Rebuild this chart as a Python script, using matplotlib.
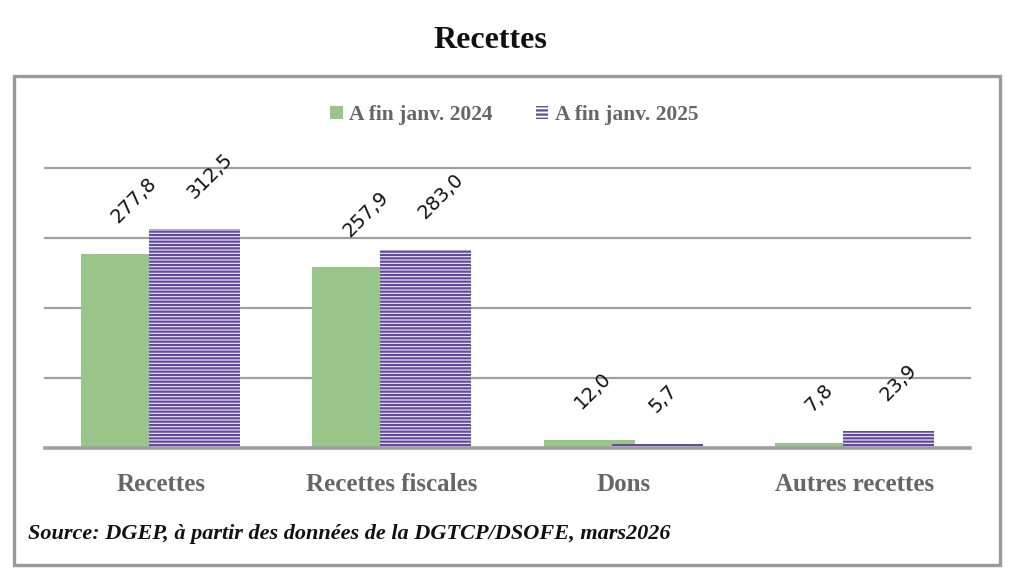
import numpy as np
import matplotlib.pyplot as plt
from matplotlib.patches import Rectangle, Patch
from matplotlib import transforms

categories = ["Recettes", "Recettes fiscales", "Dons", "Autres recettes"]
series_names = ["A fin janv. 2024", "A fin janv. 2025"]
vals_2024 = [277.8, 257.9, 12.0, 7.8]
vals_2025 = [312.5, 283.0, 5.7, 23.9]
labels_2024 = ["277,8", "257,9", "12,0", "7,8"]
labels_2025 = ["312,5", "283,0", "5,7", "23,9"]

green = "#98c68a"
purple = "#634a9e"
grey_txt = "#666666"
serif = ["Liberation Serif", "DejaVu Serif"]

plt.rcParams["hatch.linewidth"] = 1.6

fig = plt.figure(figsize=(10.24, 5.73), dpi=100)
ax = fig.add_axes([45 / 1024, 1 - 448 / 573, 925 / 1024, 280 / 573])

x = np.arange(len(categories))
w = 0.394
off = 0.147
ax.bar(x - off, vals_2024, w, color=green, zorder=2, linewidth=0)
ax.bar(x + off, vals_2025, w, facecolor="#f1eef7", edgecolor=purple,
       hatch="-----", linewidth=0, zorder=2.5)

ax.set_xlim(-0.5, 3.5)
ax.set_ylim(0, 400)
ax.set_yticks([0, 100, 200, 300, 400])
ax.yaxis.grid(True, color="#a0a0a0", linewidth=1.6)
for gl in ax.get_ygridlines():
    gl.set_clip_on(False)
ax.set_axisbelow(True)
ax.tick_params(axis="y", length=0, labelleft=False)
for s in ax.spines.values():
    s.set_visible(False)
ax.axhline(0, color="#a0a0a0", linewidth=2.6, zorder=4, clip_on=False)

ax.set_xticks(x)
ax.set_xticklabels(categories, family=serif, fontweight="bold",
                   fontsize=18, color=grey_txt)
ax.tick_params(axis="x", length=0, pad=18)

# rotated value labels
for xs, vals, labs, dx in [(x - off, vals_2024, labels_2024, -8),
                           (x + off, vals_2025, labels_2025, -1)]:
    for xi, v, lab in zip(xs, vals, labs):
        tr = ax.transData + transforms.ScaledTranslation(dx / 100, 30 / 100, fig.dpi_scale_trans)
        ax.text(xi, v, lab, transform=tr, rotation=45, rotation_mode="anchor",
                ha="left", va="baseline", fontsize=14, family="DejaVu Sans",
                color="#111111", clip_on=False)

handles = [Patch(facecolor=green, edgecolor="none"),
           Patch(facecolor="white", edgecolor=purple, hatch="----", linewidth=0)]
leg = fig.legend(handles, series_names, loc="center", bbox_to_anchor=(514 / 1024, 1 - 115 / 573),
                 ncol=2, frameon=False, handlelength=0.6, handleheight=0.6,
                 handletextpad=0.3, columnspacing=2.0,
                 prop={"family": serif, "weight": "bold", "size": 15.5})
for t in leg.get_texts():
    t.set_color(grey_txt)

fig.text(490 / 1024, 1 - 41 / 573, "Recettes", ha="center", va="center",
         family=serif, fontweight="bold", fontsize=23, color="#111111")

fig.text(28 / 1024, 1 - 534 / 573,
         "Source: DGEP, à partir des données de la DGTCP/DSOFE, mars2026",
         ha="left", va="center", family=serif, fontweight="bold",
         fontstyle="italic", fontsize=16, color="#111111")

frame = Rectangle((13.5 / 1024, 1 - 564.5 / 573), 986 / 1024, 489 / 573,
                  transform=fig.transFigure, fill=False,
                  edgecolor="#9a9a9a", linewidth=2.4)
fig.patches.append(frame)

fig.savefig("out.png", dpi=100)
